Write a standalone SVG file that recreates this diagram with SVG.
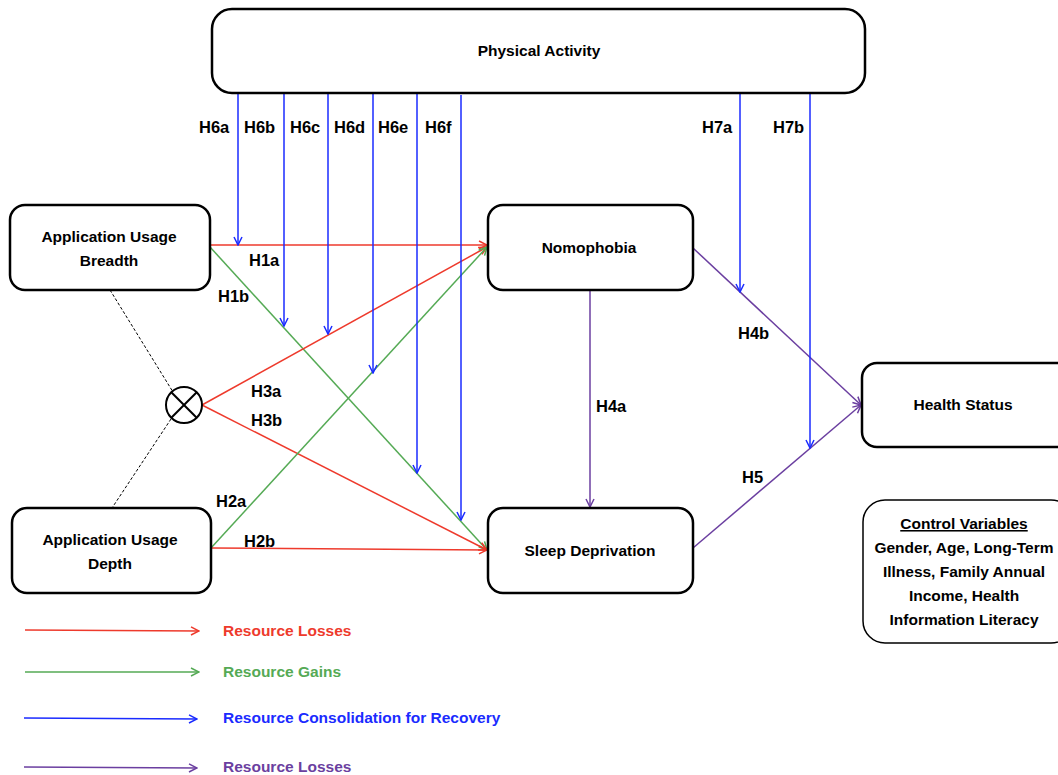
<svg xmlns="http://www.w3.org/2000/svg" width="1058" height="775" viewBox="0 0 1058 775">
<style>
.box{fill:#fff;stroke:#000;stroke-width:2.5}
text{font-family:"Liberation Sans",Arial,sans-serif;font-weight:bold;font-size:15.5px;fill:#000}
.c{text-anchor:middle}
#labels text{font-size:16.5px}
.r{stroke:#ee3a2c;stroke-width:1.5;fill:none}
.g{stroke:#55aa55;stroke-width:1.5;fill:none}
.b{stroke:#1a2bff;stroke-width:1.5;fill:none}
.p{stroke:#6b3fa0;stroke-width:1.5;fill:none}
</style>
<defs>
<marker id="mr" markerWidth="10" markerHeight="10" refX="9" refY="5" orient="auto" markerUnits="userSpaceOnUse"><path d="M1,1 L9,5 L1,9" fill="none" stroke="#ee3a2c" stroke-width="1.5"/></marker>
<marker id="mg" markerWidth="10" markerHeight="10" refX="9" refY="5" orient="auto" markerUnits="userSpaceOnUse"><path d="M1,1 L9,5 L1,9" fill="none" stroke="#55aa55" stroke-width="1.5"/></marker>
<marker id="mb" markerWidth="10" markerHeight="10" refX="9" refY="5" orient="auto" markerUnits="userSpaceOnUse"><path d="M1,1 L9,5 L1,9" fill="none" stroke="#1a2bff" stroke-width="1.5"/></marker>
<marker id="mp" markerWidth="10" markerHeight="10" refX="9" refY="5" orient="auto" markerUnits="userSpaceOnUse"><path d="M1,1 L9,5 L1,9" fill="none" stroke="#6b3fa0" stroke-width="1.5"/></marker>
</defs>
<rect width="1058" height="775" fill="#fff"/>

<g id="connectors">
<line class="r" x1="210" y1="245" x2="487" y2="245" marker-end="url(#mr)"/>
<line class="g" x1="210" y1="247" x2="487" y2="550" marker-end="url(#mg)"/>
<line class="r" x1="202" y1="405" x2="487" y2="247" marker-end="url(#mr)"/>
<line class="r" x1="202" y1="405" x2="487" y2="550" marker-end="url(#mr)"/>
<line class="g" x1="211" y1="548" x2="487" y2="247" marker-end="url(#mg)"/>
<line class="r" x1="211" y1="548" x2="487" y2="550" marker-end="url(#mr)"/>
<line class="p" x1="590" y1="290" x2="590" y2="507" marker-end="url(#mp)"/>
<line class="p" x1="693" y1="248" x2="861" y2="405" marker-end="url(#mp)"/>
<line class="p" x1="693" y1="548" x2="861" y2="405" marker-end="url(#mp)"/>
<line class="b" x1="238" y1="93" x2="238" y2="245" marker-end="url(#mb)"/>
<line class="b" x1="284" y1="93" x2="284" y2="326" marker-end="url(#mb)"/>
<line class="b" x1="328" y1="93" x2="328" y2="334" marker-end="url(#mb)"/>
<line class="b" x1="373" y1="93" x2="373" y2="373" marker-end="url(#mb)"/>
<line class="b" x1="417" y1="93" x2="417" y2="473" marker-end="url(#mb)"/>
<line class="b" x1="461" y1="95" x2="461" y2="520" marker-end="url(#mb)"/>
<line class="b" x1="740" y1="93" x2="740" y2="292" marker-end="url(#mb)"/>
<line class="b" x1="810" y1="93" x2="810" y2="448" marker-end="url(#mb)"/>
<line x1="110" y1="290" x2="173" y2="392" stroke="#000" stroke-width="1" stroke-dasharray="3,2"/>
<line x1="171" y1="419" x2="112" y2="508" stroke="#000" stroke-width="1" stroke-dasharray="3,2"/>
</g>

<g id="labels">
<text x="249" y="266">H1a</text>
<text x="218" y="302">H1b</text>
<text x="251" y="397">H3a</text>
<text x="251" y="426">H3b</text>
<text x="216" y="507">H2a</text>
<text x="244" y="547">H2b</text>
<text x="596" y="412">H4a</text>
<text x="738" y="339">H4b</text>
<text x="742" y="483">H5</text>
<text x="199" y="133">H6a</text>
<text x="244" y="133">H6b</text>
<text x="290" y="133">H6c</text>
<text x="334" y="133">H6d</text>
<text x="378" y="133">H6e</text>
<text x="425" y="133">H6f</text>
<text x="702" y="133">H7a</text>
<text x="773" y="133">H7b</text>
</g>

<g id="physical-activity">
<rect class="box" x="212" y="9" width="653" height="84" rx="20"/>
<text class="c" x="539" y="56">Physical Activity</text>
</g>
<g id="breadth">
<rect class="box" x="10" y="205" width="200" height="85" rx="15"/>
<text class="c" x="109" y="242">Application Usage</text>
<text class="c" x="109" y="266">Breadth</text>
</g>
<g id="depth">
<rect class="box" x="12" y="508" width="199" height="85" rx="15"/>
<text class="c" x="110" y="545">Application Usage</text>
<text class="c" x="110" y="569">Depth</text>
</g>
<g id="interaction">
<circle cx="184" cy="405" r="18" fill="#fff" stroke="#000" stroke-width="2"/>
<line x1="171.3" y1="392.3" x2="196.7" y2="417.7" stroke="#000" stroke-width="2"/>
<line x1="196.7" y1="392.3" x2="171.3" y2="417.7" stroke="#000" stroke-width="2"/>
</g>
<g id="nomophobia">
<rect class="box" x="488" y="205" width="205" height="85" rx="15"/>
<text class="c" x="589" y="253">Nomophobia</text>
</g>
<g id="sleep">
<rect class="box" x="488" y="508" width="205" height="85" rx="15"/>
<text class="c" x="590" y="556">Sleep Deprivation</text>
</g>
<g id="health">
<rect class="box" x="862" y="363" width="210" height="84" rx="15"/>
<text class="c" x="963" y="410">Health Status</text>
</g>
<g id="control">
<rect x="863" y="500" width="210" height="143" rx="22" fill="#fff" stroke="#000" stroke-width="1.5"/>
<text class="c" x="964" y="529" text-decoration="underline">Control Variables</text>
<text class="c" x="964" y="553">Gender, Age, Long-Term</text>
<text class="c" x="964" y="577">Illness, Family Annual</text>
<text class="c" x="964" y="601">Income, Health</text>
<text class="c" x="964" y="625">Information Literacy</text>
</g>

<g id="legend">
<line class="r" x1="25" y1="630" x2="199" y2="631" marker-end="url(#mr)"/>
<text x="223" y="636" style="fill:#ee3a2c">Resource Losses</text>
<line class="g" x1="25" y1="672" x2="199" y2="672" marker-end="url(#mg)"/>
<text x="223" y="677" style="fill:#55aa55">Resource Gains</text>
<line class="b" x1="24" y1="718" x2="197" y2="719" marker-end="url(#mb)"/>
<text x="223" y="723" style="fill:#1a2bff">Resource Consolidation for Recovery</text>
<line class="p" x1="24" y1="767" x2="197" y2="768" marker-end="url(#mp)"/>
<text x="223" y="772" style="fill:#6b3fa0">Resource Losses</text>
</g>
</svg>
